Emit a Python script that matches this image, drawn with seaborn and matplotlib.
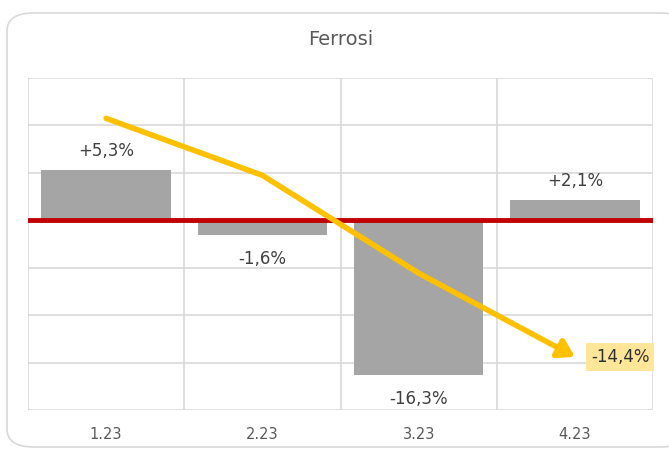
import matplotlib
matplotlib.use("Agg")
import matplotlib.pyplot as plt
import seaborn as sns
import pandas as pd
from matplotlib.patches import FancyBboxPatch

categories = ["1.23", "2.23", "3.23", "4.23"]
bar_values = [5.3, -1.6, -16.3, 2.1]
bar_labels = ["+5,3%", "-1,6%", "-16,3%", "+2,1%"]
line_values = [10.7, 4.7, -5.6, -14.4]
line_end_label = "-14,4%"
title = "Ferrosi"

sns.set_theme(style="white")
plt.rcParams["font.family"] = ["DejaVu Sans"]

fig = plt.figure(figsize=(6.69, 4.49), dpi=100)
# outer rounded card
card = FancyBboxPatch((7 / 669, 2 / 449), 680 / 669, 434 / 449,
                      boxstyle="round,pad=0,rounding_size=0.04",
                      transform=fig.transFigure, facecolor="white",
                      edgecolor="#D9D9D9", linewidth=1.2, zorder=-5)
fig.patches.append(card)

ax = fig.add_axes([28 / 669, 1 - 410 / 449, (653 - 28) / 669, (410 - 77.5) / 449])
ax.set_zorder(5)
ax.set_facecolor("none")

df = pd.DataFrame({"cat": categories, "val": bar_values})
sns.barplot(data=df, x="cat", y="val", color="#A5A5A5", saturation=1,
            width=0.83, ax=ax, zorder=2, edgecolor="none")

ax.set_ylim(-20, 15)
ax.set_xlim(-0.5, 3.5)
ax.set_yticks([-20, -15, -10, -5, 0, 5, 10, 15])
ax.set_yticklabels([])
ax.set_xticks([0, 1, 2, 3])
ax.set_xticks([-0.5, 0.5, 1.5, 2.5, 3.5], minor=True)
ax.grid(False)
ax.yaxis.grid(True, color="#D9D9D9", linewidth=1.2, zorder=0)
ax.xaxis.grid(True, which="minor", color="#D9D9D9", linewidth=1.2, zorder=0)
ax.set_axisbelow(True)
ax.tick_params(axis="both", which="both", length=0)
ax.tick_params(axis="x", labelsize=10.5, labelcolor="#595959", pad=12.5)
ax.set_xlabel("")
ax.set_ylabel("")
for s in ax.spines.values():
    s.set_visible(False)

# bar labels (outside end)
bars = ax.containers[0].patches
for bar, val, lab in zip(bars, bar_values, bar_labels):
    xc = bar.get_x() + bar.get_width() / 2
    if val >= 0:
        ax.annotate(lab, xy=(xc, val), xytext=(0, 14), textcoords="offset pixels",
                    ha="center", va="baseline", fontsize=12, color="#404040")
    else:
        ax.annotate(lab, xy=(xc, val), xytext=(0, -29), textcoords="offset pixels",
                    ha="center", va="baseline", fontsize=12, color="#404040")

# zero line
ax.axhline(0, color="#C00000", linewidth=3.5, zorder=3)

# trend line with arrow at the end
xs = list(range(len(categories)))
sns.lineplot(x=xs[:-1], y=line_values[:-1], color="#FFC000", linewidth=4,
             ax=ax, zorder=4, solid_capstyle="round")
ax.annotate("", xy=(xs[-1], line_values[-1]), xytext=(xs[-2], line_values[-2]),
            arrowprops=dict(arrowstyle="-|>,head_length=0.8,head_width=0.5",
                            color="#FFC000", lw=4, shrinkA=0, shrinkB=0),
            zorder=4)
ax.annotate(line_end_label, xy=(xs[-1], line_values[-1]), xytext=(16, 0),
            textcoords="offset pixels", ha="left", va="center", fontsize=12,
            color="#303030", zorder=5,
            bbox=dict(boxstyle="square,pad=0.3", facecolor="#FFE699",
                      edgecolor="none"))

fig.text(341 / 669, 1 - 39.5 / 449, title, ha="center", va="center",
         fontsize=14, color="#595959")

fig.savefig("out.png", dpi=100)
